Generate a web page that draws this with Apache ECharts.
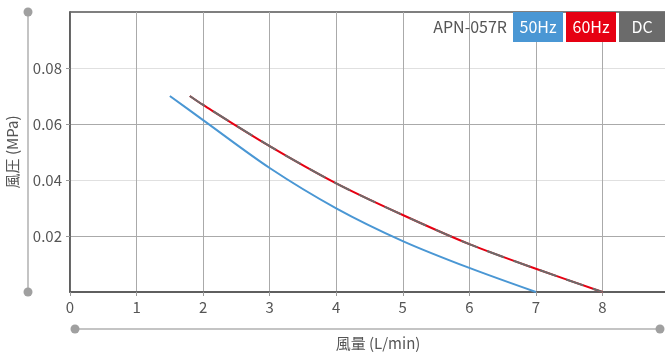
<!DOCTYPE html>
<html><head><meta charset="utf-8">
<script src="https://cdn.jsdelivr.net/npm/echarts@6/dist/echarts.min.js"></script>
<style>html,body{margin:0;padding:0;background:#fff}#c{width:665px;height:356px}</style>
</head><body><div id="c"></div>
<script>
const flow50 = [1.5, 2, 3, 4, 5, 6, 7];
const press50 = [0.07, 0.0614, 0.0443, 0.0299, 0.0182, 0.0086, 0];
const flow60 = [1.8, 2, 3, 4, 5, 6, 7, 8];
const press60 = [0.07, 0.0668, 0.0521, 0.0388, 0.0275, 0.0171, 0.0083, 0];
const flowDC = [1.8, 2, 3, 4, 5, 6, 7, 8];
const pressDC = [0.07, 0.0668, 0.0521, 0.0388, 0.0275, 0.0171, 0.0083, 0];
const xTickLabels = [0, 1, 2, 3, 4, 5, 6, 7, 8];
const yTickLabels = [0.02, 0.04, 0.06, 0.08];
const legendItems = ['50Hz', '60Hz', 'DC'];
const modelName = 'APN-057R';
const xName = '風量 (L/min)';
const yName = '風圧 (MPa)';

const FONT = '"Noto Sans CJK JP", "Noto Sans", sans-serif';
const zip = (a, b) => a.map((v, i) => [v, b[i]]);
const chart = echarts.init(document.getElementById('c'), null, {renderer: 'canvas'});

const legendColors = ['#4a97d4', '#e60012', '#6b6b6b'];
const legendX = [513, 566, 619];
const legendW = [50, 50, 46];
const graphics = [
  {type: 'line', shape: {x1: 28, y1: 12, x2: 28, y2: 292}, style: {stroke: '#b0b0b0', lineWidth: 1.5}, silent: true},
  {type: 'circle', shape: {cx: 28, cy: 12, r: 4.5}, style: {fill: '#a0a0a0'}},
  {type: 'circle', shape: {cx: 28, cy: 292, r: 4.5}, style: {fill: '#a0a0a0'}},
  {type: 'line', shape: {x1: 75, y1: 329, x2: 660, y2: 329}, style: {stroke: '#b0b0b0', lineWidth: 1.5}},
  {type: 'circle', shape: {cx: 75, cy: 329, r: 4.5}, style: {fill: '#a0a0a0'}},
  {type: 'circle', shape: {cx: 660, cy: 329, r: 4.5}, style: {fill: '#a0a0a0'}},
  {type: 'text', x: 378, y: 343, style: {text: xName, font: '15px ' + FONT, fill: '#555', textAlign: 'center', textVerticalAlign: 'middle'}},
  {type: 'text', x: 507, y: 27, style: {text: modelName, font: '16px ' + FONT, fill: '#555', textAlign: 'right', textVerticalAlign: 'middle'}, z: 10}
];
legendItems.forEach((name, i) => {
  graphics.push({type: 'rect', shape: {x: legendX[i], y: 12, width: legendW[i], height: 30}, style: {fill: legendColors[i]}, z: 10});
  graphics.push({type: 'text', x: legendX[i] + legendW[i] / 2, y: 27, style: {text: name, font: '16px ' + FONT, fill: '#fff', textAlign: 'center', textVerticalAlign: 'middle'}, z: 11});
});

chart.setOption({
  animation: false,
  textStyle: {fontFamily: FONT},
  grid: {left: 70, right: -4, top: 12, bottom: 64, containLabel: false, outerBoundsMode: 'none',
    show: true, borderColor: '#555', borderWidth: 1.5, backgroundColor: 'transparent'},
  xAxis: {
    type: 'value', min: 0, max: 9, interval: 1,
    axisLine: {show: true, onZero: false, lineStyle: {color: '#555', width: 1.5}},
    axisTick: {show: true, length: 4, lineStyle: {color: '#999'}, customValues: xTickLabels},
    axisLabel: {color: '#555', fontSize: 15, margin: 8, customValues: xTickLabels, formatter: v => String(v)},
    splitLine: {show: true, lineStyle: {color: '#aaa', width: 1}}
  },
  yAxis: {
    type: 'value', min: 0, max: 0.1, interval: 0.01,
    name: yName, nameLocation: 'middle', nameGap: 50,
    nameTextStyle: {color: '#555', fontSize: 15},
    axisLine: {show: true, lineStyle: {color: '#555', width: 1.5}},
    axisTick: {show: true, length: 4, lineStyle: {color: '#999'}, customValues: yTickLabels},
    axisLabel: {color: '#555', fontSize: 15, margin: 8, customValues: yTickLabels, formatter: v => v.toFixed(2)},
    splitLine: {show: true, lineStyle: {color: ['#aaa', '#e0e0e0'], width: 1}}
  },
  series: [
    {type: 'line', data: zip(flow50, press50), smooth: 0.3, showSymbol: false, lineStyle: {color: '#4a97d4', width: 2}, z: 3},
    {type: 'line', data: zip(flow60, press60), smooth: 0.3, showSymbol: false, lineStyle: {color: '#e60012', width: 2}, z: 3},
    {type: 'line', data: zip(flowDC, pressDC), smooth: 0.3, showSymbol: false, lineStyle: {color: '#6b6b6b', width: 2, type: [18, 10]}, z: 4}
  ],
  graphic: graphics
});
</script></body></html>
